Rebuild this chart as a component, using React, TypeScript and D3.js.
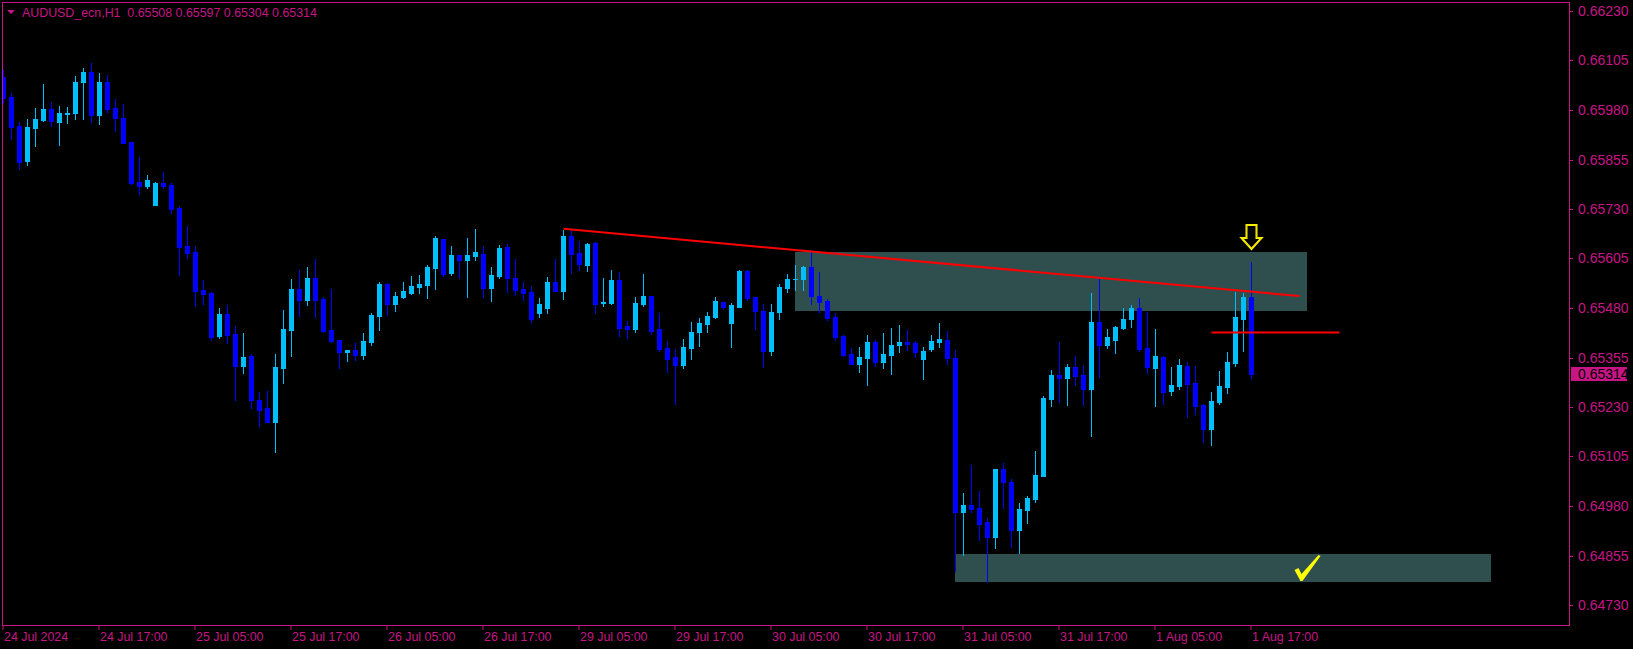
import React from 'react';
import * as d3 from 'd3';

const SYMBOL = 'AUDUSD_ecn,H1';
const LAST_OHLC = ['0.65508', '0.65597', '0.65304', '0.65314'];

const TIME_LABEL_BARS = [0, 12, 24, 36, 48, 60, 72, 84, 96, 108, 120, 132, 144, 156];
const TIME_LABELS = [
  '24 Jul 2024', '24 Jul 17:00', '25 Jul 05:00', '25 Jul 17:00', '26 Jul 05:00', '26 Jul 17:00',
  '29 Jul 05:00', '29 Jul 17:00', '30 Jul 05:00', '30 Jul 17:00', '31 Jul 05:00', '31 Jul 17:00',
  '1 Aug 05:00', '1 Aug 17:00',
];
const PRICE_TICKS = [
  0.66230, 0.66105, 0.65980, 0.65855, 0.65730, 0.65605, 0.65480,
  0.65355, 0.65230, 0.65105, 0.64980, 0.64855, 0.64730,
];

// H1 bars, one per hour
const OPEN = [
  0.66063, 0.66012, 0.65940, 0.65852, 0.65935, 0.65955, 0.65983, 0.65950, 0.65971, 0.65973,
  0.66051, 0.66076, 0.65968, 0.66051, 0.65985, 0.65960, 0.65899, 0.65798, 0.65788, 0.65741,
  0.65796, 0.65791, 0.65733, 0.65637, 0.65621, 0.65526, 0.65518, 0.65409, 0.65465, 0.65414,
  0.65334, 0.65359, 0.65248, 0.65228, 0.65193, 0.65329, 0.65425, 0.65528, 0.65501, 0.65556,
  0.65503, 0.65424, 0.65399, 0.65370, 0.65374, 0.65362, 0.65394, 0.65460, 0.65541, 0.65490,
  0.65508, 0.65518, 0.65533, 0.65538, 0.65581, 0.65654, 0.65568, 0.65614, 0.65601, 0.65611,
  0.65616, 0.65531, 0.65561, 0.65634, 0.65556, 0.65528, 0.65520, 0.65467, 0.65480, 0.65546,
  0.65523, 0.65662, 0.65619, 0.65589, 0.65644, 0.65492, 0.65493, 0.65551, 0.65435, 0.65427,
  0.65491, 0.65510, 0.65427, 0.65379, 0.65356, 0.65337, 0.65380, 0.65420, 0.65440, 0.65458,
  0.65495, 0.65443, 0.65483, 0.65573, 0.65507, 0.65472, 0.65371, 0.65470, 0.65531, 0.65552,
  0.65553, 0.65584, 0.65510, 0.65498, 0.65457, 0.65409, 0.65364, 0.65339, 0.65354, 0.65394,
  0.65344, 0.65361, 0.65387, 0.65394, 0.65392, 0.65351, 0.65376, 0.65394, 0.65399, 0.65354,
  0.64965, 0.64983, 0.64975, 0.64940, 0.64902, 0.65073, 0.65041, 0.64919, 0.64970, 0.64998,
  0.65056, 0.65250, 0.65311, 0.65303, 0.65331, 0.65311, 0.65275, 0.65445, 0.65387, 0.65399,
  0.65430, 0.65452, 0.65480, 0.65379, 0.65328, 0.65356, 0.65270, 0.65283, 0.65334, 0.65291,
  0.65235, 0.65174, 0.65243, 0.65280, 0.65341, 0.65452, 0.65508,
];
const HIGH = [
  0.66081, 0.66022, 0.65950, 0.65957, 0.65985, 0.66046, 0.66000, 0.65990, 0.65988, 0.66066,
  0.66086, 0.66099, 0.66073, 0.66068, 0.66008, 0.65995, 0.65900, 0.65861, 0.65816, 0.65797,
  0.65823, 0.65796, 0.65738, 0.65687, 0.65637, 0.65551, 0.65520, 0.65480, 0.65488, 0.65435,
  0.65417, 0.65364, 0.65268, 0.65271, 0.65364, 0.65475, 0.65553, 0.65576, 0.65583, 0.65604,
  0.65508, 0.65528, 0.65400, 0.65374, 0.65392, 0.65417, 0.65467, 0.65546, 0.65542, 0.65520,
  0.65546, 0.65561, 0.65563, 0.65589, 0.65662, 0.65655, 0.65637, 0.65615, 0.65657, 0.65680,
  0.65637, 0.65584, 0.65639, 0.65642, 0.65604, 0.65546, 0.65536, 0.65505, 0.65558, 0.65604,
  0.65677, 0.65674, 0.65649, 0.65644, 0.65647, 0.65556, 0.65576, 0.65571, 0.65447, 0.65508,
  0.65566, 0.65511, 0.65467, 0.65397, 0.65376, 0.65402, 0.65445, 0.65455, 0.65470, 0.65508,
  0.65496, 0.65493, 0.65576, 0.65576, 0.65508, 0.65490, 0.65490, 0.65541, 0.65566, 0.65589,
  0.65586, 0.65621, 0.65571, 0.65503, 0.65467, 0.65412, 0.65379, 0.65381, 0.65412, 0.65399,
  0.65417, 0.65430, 0.65437, 0.65424, 0.65397, 0.65381, 0.65412, 0.65442, 0.65422, 0.65374,
  0.65013, 0.65084, 0.65018, 0.64950, 0.65074, 0.65089, 0.65048, 0.64988, 0.65005, 0.65119,
  0.65258, 0.65323, 0.65394, 0.65339, 0.65359, 0.65336, 0.65518, 0.65553, 0.65427, 0.65435,
  0.65480, 0.65488, 0.65505, 0.65470, 0.65427, 0.65359, 0.65331, 0.65351, 0.65344, 0.65334,
  0.65238, 0.65268, 0.65321, 0.65369, 0.65520, 0.65518, 0.65597,
];
const LOW = [
  0.65997, 0.65907, 0.65830, 0.65842, 0.65890, 0.65952, 0.65940, 0.65892, 0.65948, 0.65957,
  0.65957, 0.65950, 0.65945, 0.65976, 0.65928, 0.65896, 0.65793, 0.65769, 0.65783, 0.65740,
  0.65784, 0.65720, 0.65564, 0.65607, 0.65485, 0.65491, 0.65400, 0.65405, 0.65392, 0.65248,
  0.65317, 0.65228, 0.65183, 0.65192, 0.65117, 0.65291, 0.65360, 0.65461, 0.65488, 0.65458,
  0.65419, 0.65395, 0.65329, 0.65347, 0.65349, 0.65352, 0.65387, 0.65424, 0.65462, 0.65472,
  0.65505, 0.65515, 0.65518, 0.65505, 0.65528, 0.65561, 0.65563, 0.65556, 0.65508, 0.65601,
  0.65508, 0.65498, 0.65556, 0.65520, 0.65513, 0.65500, 0.65445, 0.65457, 0.65467, 0.65522,
  0.65503, 0.65569, 0.65576, 0.65574, 0.65468, 0.65486, 0.65491, 0.65410, 0.65405, 0.65420,
  0.65486, 0.65415, 0.65372, 0.65319, 0.65238, 0.65329, 0.65352, 0.65385, 0.65420, 0.65455,
  0.65478, 0.65382, 0.65482, 0.65501, 0.65427, 0.65331, 0.65361, 0.65452, 0.65520, 0.65526,
  0.65526, 0.65490, 0.65470, 0.65450, 0.65399, 0.65360, 0.65338, 0.65318, 0.65286, 0.65334,
  0.65328, 0.65313, 0.65369, 0.65374, 0.65356, 0.65301, 0.65371, 0.65381, 0.65339, 0.64816,
  0.64856, 0.64965, 0.64894, 0.64788, 0.64874, 0.64975, 0.64876, 0.64861, 0.64937, 0.64990,
  0.65055, 0.65233, 0.65243, 0.65235, 0.65286, 0.65235, 0.65157, 0.65306, 0.65379, 0.65366,
  0.65427, 0.65432, 0.65371, 0.65316, 0.65233, 0.65238, 0.65260, 0.65275, 0.65205, 0.65212,
  0.65142, 0.65134, 0.65238, 0.65265, 0.65334, 0.65371, 0.65304,
];
const CLOSE = [
  0.66011, 0.65938, 0.65849, 0.65937, 0.65957, 0.65983, 0.65952, 0.65972, 0.65972, 0.66051,
  0.66076, 0.65968, 0.66051, 0.65983, 0.65961, 0.65897, 0.65796, 0.65789, 0.65803, 0.65796,
  0.65788, 0.65730, 0.65634, 0.65619, 0.65523, 0.65516, 0.65408, 0.65465, 0.65412, 0.65334,
  0.65356, 0.65248, 0.65223, 0.65193, 0.65331, 0.65427, 0.65528, 0.65501, 0.65556, 0.65501,
  0.65422, 0.65397, 0.65370, 0.65374, 0.65361, 0.65397, 0.65462, 0.65541, 0.65490, 0.65510,
  0.65523, 0.65536, 0.65541, 0.65584, 0.65657, 0.65566, 0.65614, 0.65601, 0.65614, 0.65621,
  0.65531, 0.65563, 0.65632, 0.65556, 0.65526, 0.65518, 0.65452, 0.65490, 0.65546, 0.65523,
  0.65662, 0.65617, 0.65592, 0.65642, 0.65491, 0.65496, 0.65551, 0.65430, 0.65427, 0.65493,
  0.65510, 0.65423, 0.65377, 0.65352, 0.65337, 0.65381, 0.65419, 0.65442, 0.65460, 0.65498,
  0.65483, 0.65488, 0.65573, 0.65506, 0.65472, 0.65371, 0.65470, 0.65533, 0.65553, 0.65553,
  0.65584, 0.65510, 0.65495, 0.65455, 0.65407, 0.65361, 0.65339, 0.65356, 0.65394, 0.65344,
  0.65364, 0.65387, 0.65394, 0.65389, 0.65369, 0.65371, 0.65397, 0.65402, 0.65354, 0.64965,
  0.64983, 0.64972, 0.64935, 0.64902, 0.65073, 0.65041, 0.64919, 0.64972, 0.65000, 0.65058,
  0.65253, 0.65311, 0.65303, 0.65331, 0.65308, 0.65275, 0.65445, 0.65387, 0.65407, 0.65432,
  0.65452, 0.65480, 0.65376, 0.65331, 0.65359, 0.65268, 0.65286, 0.65336, 0.65288, 0.65233,
  0.65174, 0.65245, 0.65283, 0.65344, 0.65457, 0.65508, 0.65314,
];

// drawn objects: bar index + price
const TREND_BARS = [70, 162];
const TREND_PRICES = [0.65680, 0.65510];
const HLINE_BARS = [151, 167];
const HLINE_PRICE = 0.65418;
const ZONE_BARS = [[99, 163], [119, 186]];
const ZONE_PRICES = [[0.65621, 0.65472], [0.64859, 0.64788]];
const ARROW_BAR = 156;
const ARROW_PRICE = 0.65626;
const CHECK_BAR = 163;
const CHECK_PRICE = 0.64826;

const W = 1633, H = 649;
const LEFT = 2, TOP = 2, RIGHT = 1569, BOTTOM = 625;
const FG = '#C71585';
const BULL = '#00BFFF';
const BEAR = '#0000FF';
const ZONE = '#2F4F4F';
const FONT = '"Liberation Sans", Arial, sans-serif';

export default function App() {
  const x = d3.scaleLinear().domain([0, 156]).range([3.5, 1251.5]);
  const y = d3.scaleLinear().domain([0.64730, 0.66230]).range([605, 11]);
  const py = (p: number) => Math.round(y(p));
  const fmt = d3.format('.5f');

  const bars = OPEN.map((o, i) => ({ i, o, h: HIGH[i], l: LOW[i], c: CLOSE[i] }));
  const lastY = y(CLOSE[CLOSE.length - 1]);

  const ax = x(ARROW_BAR), ay = py(ARROW_PRICE);
  const arrow = `M${ax - 5},${ay - 25} L${ax + 5},${ay - 25} L${ax + 5},${ay - 12} L${ax + 10},${ay - 12} L${ax},${ay - 1} L${ax - 10},${ay - 12} L${ax - 5},${ay - 12} Z`;
  const cx = x(CHECK_BAR), cy = y(CHECK_PRICE);
  const check = d3.line()([
    [cx - 13, cy + 3], [cx - 9, cy + 1], [cx - 6, cy + 7], [cx + 11, cy - 12],
    [cx + 13, cy - 11], [cx - 5, cy + 14], [cx - 7, cy + 14],
  ]) + 'Z';

  return (
    <svg width={W} height={H} style={{ position: 'absolute', left: 0, top: 0, display: 'block', background: '#000' }}>
      <defs>
        <clipPath id="plot">
          <rect x={LEFT + 1} y={TOP + 1} width={RIGHT - LEFT - 1} height={BOTTOM - TOP - 1} />
        </clipPath>
      </defs>
      <rect width={W} height={H} fill="#000" />

      <g clipPath="url(#plot)">
        {ZONE_BARS.map((b, k) => {
          const x0 = Math.floor(x(b[0])), x1 = Math.floor(x(b[1]));
          const y0 = py(ZONE_PRICES[k][0]), y1 = py(ZONE_PRICES[k][1]);
          return <rect key={k} x={x0} y={y0} width={x1 - x0} height={y1 - y0} fill={ZONE} />;
        })}

        {bars.map(d => {
          const col = d.c >= d.o ? BULL : BEAR;
          const xc = x(d.i);
          const yt = py(Math.max(d.o, d.c)), yb = py(Math.min(d.o, d.c));
          return (
            <g key={d.i} fill={col}>
              <rect x={xc - 0.5} y={py(d.h)} width={1} height={Math.max(1, py(d.l) - py(d.h) + 1)} />
              <rect x={xc - 2.5} y={yt} width={5} height={Math.max(1, yb - yt + 1)} />
            </g>
          );
        })}

        <line x1={x(TREND_BARS[0])} y1={y(TREND_PRICES[0])} x2={x(TREND_BARS[1])} y2={y(TREND_PRICES[1])}
          stroke="#FF0000" strokeWidth={2} />
        <line x1={x(HLINE_BARS[0])} y1={y(HLINE_PRICE)} x2={x(HLINE_BARS[1])} y2={y(HLINE_PRICE)}
          stroke="#FF0000" strokeWidth={2} />

        <path d={arrow} fill="none" stroke="#FFFF00" strokeWidth={2} strokeLinejoin="miter" />
        <path d={arrow} fill="none" stroke="#E8A000" strokeWidth={0.8} transform={`translate(0,0)`} opacity={0.5} />
        <path d={check} fill="#FFFF00" />
      </g>

      {/* frame */}
      <rect x={LEFT + 0.5} y={TOP + 0.5} width={RIGHT - LEFT} height={BOTTOM - TOP} fill="none" stroke={FG} strokeWidth={1} />

      {/* price axis */}
      {PRICE_TICKS.map(p => (
        <g key={p}>
          <line x1={RIGHT} x2={RIGHT + 4} y1={py(p) + 0.5} y2={py(p) + 0.5} stroke={FG} />
          <text x={1578} y={py(p)} dy="0.36em" fill={FG} fontFamily={FONT} fontSize={14}>{fmt(p)}</text>
        </g>
      ))}
      <rect x={1571} y={Math.round(lastY) - 7} width={56} height={14} fill={FG} />
      <text x={1578} y={Math.round(lastY)} dy="0.36em" fill="#000" fontFamily={FONT} fontSize={14}>
        {fmt(CLOSE[CLOSE.length - 1])}
      </text>

      {/* time axis */}
      {TIME_LABEL_BARS.map((b, k) => {
        const tx = Math.floor(x(b)) - 0.5;
        return (
          <g key={b}>
            <line x1={tx + 0.5} x2={tx + 0.5} y1={BOTTOM} y2={BOTTOM + 5} stroke={FG} />
            <text x={tx + 1.5} y={641} fill={FG} fontFamily={FONT} fontSize={12.4}>{TIME_LABELS[k]}</text>
          </g>
        );
      })}

      {/* header */}
      <path d="M7,10 L15,10 L11,14 Z" fill={FG} />
      <text x={22} y={17} fill={FG} fontFamily={FONT} fontSize={12.4} style={{ whiteSpace: 'pre' }}>
        {`${SYMBOL}  ${LAST_OHLC.join(' ')}`}
      </text>
    </svg>
  );
}
